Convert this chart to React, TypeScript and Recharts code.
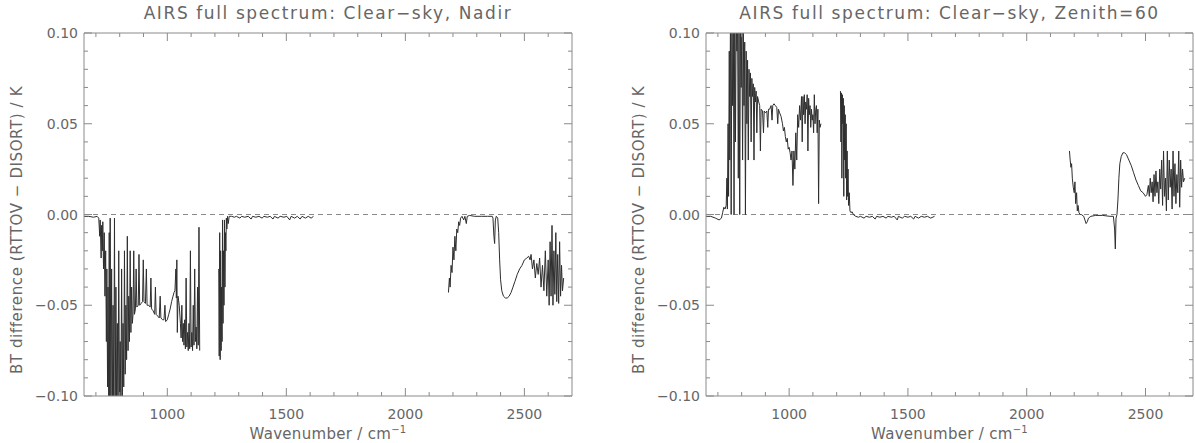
import React from "react";
import { LineChart, Line, XAxis, YAxis, ReferenceLine } from "recharts";

// wavenumber ticks (cm-1) and BT-difference ticks (K)
const xMinorTicks = [700, 800, 900, 1000, 1100, 1200, 1300, 1400, 1500, 1600, 1700, 1800, 1900, 2000, 2100, 2200, 2300, 2400, 2500, 2600];
const xMajorTicks = [1000, 1500, 2000, 2500];
const yTicks = [-0.1, -0.09, -0.08, -0.07, -0.06, -0.05, -0.04, -0.03, -0.02, -0.01, 0, 0.01, 0.02, 0.03, 0.04, 0.05, 0.06, 0.07, 0.08, 0.09, 0.1];

// Nadir: [wavenumber, RTTOV - DISORT]
const nadirLong: [number, number][] = [
  [650, -0.001], [670, -0.001], [690, -0.0015], [705, -0.001], [712, -0.002], [716, -0.012], [718, -0.003],
  [722, -0.024], [724, -0.006], [727, -0.02], [729, -0.004], [732, -0.03], [735, -0.01], [738, -0.045],
  [741, -0.02], [744, -0.07], [746, -0.03], [749, -0.095], [751, -0.04], [754, -0.105], [756, -0.01],
  [758, -0.11], [760, -0.002], [763, -0.11], [766, -0.03], [769, -0.11], [772, -0.05], [775, -0.11],
  [778, -0.002], [781, -0.11], [784, -0.04], [787, -0.11], [790, -0.06], [793, -0.11], [796, -0.02],
  [799, -0.11], [802, -0.07], [805, -0.105], [808, -0.03], [811, -0.1], [814, -0.06], [817, -0.095],
  [820, -0.02], [823, -0.088], [826, -0.05], [829, -0.08], [832, -0.012], [835, -0.075], [838, -0.045],
  [841, -0.07], [844, -0.02], [847, -0.065], [850, -0.04], [853, -0.06], [856, -0.055], [859, -0.02],
  [862, -0.055], [866, -0.052], [869, -0.03], [872, -0.051], [878, -0.05], [881, -0.022], [884, -0.05],
  [890, -0.049], [896, -0.048], [899, -0.025], [902, -0.048], [908, -0.049], [912, -0.03], [915, -0.05],
  [922, -0.05], [928, -0.051], [931, -0.035], [934, -0.052], [940, -0.053], [947, -0.055], [950, -0.04],
  [953, -0.055], [960, -0.056], [966, -0.057], [970, -0.045], [973, -0.057], [980, -0.058], [986, -0.058],
  [990, -0.05], [993, -0.059], [1000, -0.058], [1006, -0.055], [1012, -0.052], [1018, -0.048],
  [1024, -0.045], [1028, -0.043], [1032, -0.042], [1036, -0.03], [1038, -0.046], [1040, -0.025],
  [1042, -0.065], [1045, -0.045], [1050, -0.05], [1055, -0.06], [1058, -0.068], [1061, -0.05],
  [1064, -0.07], [1067, -0.06], [1070, -0.072], [1073, -0.058], [1076, -0.074], [1079, -0.035],
  [1082, -0.073], [1085, -0.065], [1088, -0.075], [1091, -0.06], [1094, -0.074], [1097, -0.02],
  [1100, -0.073], [1103, -0.065], [1106, -0.075], [1109, -0.05], [1112, -0.072], [1115, -0.03],
  [1118, -0.07], [1121, -0.062], [1124, -0.074], [1127, -0.04], [1130, -0.072], [1133, -0.007], [1136, -0.075],
];
const nadirMid: [number, number][] = [
  [1216, -0.03], [1218, -0.078], [1220, -0.01], [1222, -0.08], [1224, -0.02], [1226, -0.075], [1228, -0.04],
  [1230, -0.07], [1232, -0.003], [1234, -0.06], [1236, -0.02], [1238, -0.05], [1240, -0.003], [1242, -0.04],
  [1244, -0.01], [1246, -0.02], [1248, -0.002], [1250, -0.008], [1253, -0.001], [1256, -0.005], [1260, -0.001],
  [1270, -0.001], [1282, -0.0015], [1290, -0.001], [1305, -0.002], [1312, -0.001], [1325, -0.0015], [1340, -0.001],
  [1352, -0.0025], [1358, -0.001], [1372, -0.0015], [1385, -0.001], [1398, -0.002], [1406, -0.001], [1420, -0.0015],
  [1432, -0.001], [1444, -0.0025], [1450, -0.001], [1465, -0.002], [1474, -0.001], [1490, -0.0015], [1502, -0.001],
  [1514, -0.003], [1520, -0.001], [1535, -0.002], [1546, -0.001], [1558, -0.0025], [1566, -0.001], [1580, -0.002],
  [1592, -0.001], [1604, -0.002], [1614, -0.001],
];
const nadirShort: [number, number][] = [
  [2181, -0.043], [2185, -0.035], [2188, -0.04], [2192, -0.028], [2196, -0.032], [2200, -0.018], [2204, -0.025],
  [2208, -0.012], [2212, -0.02], [2216, -0.008], [2220, -0.01], [2224, -0.004], [2228, -0.006], [2232, -0.002],
  [2238, -0.001], [2245, -0.003], [2250, -0.001], [2256, -0.005], [2260, -0.001], [2270, -0.0005], [2290, -0.001],
  [2320, -0.001], [2345, -0.001], [2365, -0.001], [2368, -0.002], [2372, -0.012], [2375, -0.016], [2378, -0.003],
  [2382, -0.001], [2388, -0.002], [2392, -0.01], [2396, -0.025], [2400, -0.036], [2405, -0.042], [2412, -0.045],
  [2420, -0.046], [2428, -0.046], [2436, -0.045], [2444, -0.043], [2452, -0.04], [2460, -0.037], [2470, -0.033],
  [2480, -0.03], [2490, -0.028], [2500, -0.025], [2510, -0.024], [2518, -0.023], [2524, -0.025], [2528, -0.022],
  [2534, -0.03], [2540, -0.025], [2546, -0.035], [2552, -0.027], [2558, -0.033], [2564, -0.024], [2570, -0.04],
  [2576, -0.028], [2582, -0.042], [2588, -0.02], [2594, -0.045], [2600, -0.025], [2604, -0.05], [2608, -0.015],
  [2612, -0.045], [2616, -0.006], [2620, -0.05], [2624, -0.02], [2628, -0.044], [2632, -0.01], [2636, -0.048],
  [2640, -0.022], [2644, -0.049], [2648, -0.015], [2652, -0.045], [2656, -0.028], [2660, -0.042], [2665, -0.035],
];

// Zenith = 60
const zenithLong: [number, number][] = [
  [650, -0.001], [670, -0.001], [690, -0.002], [705, -0.003], [715, -0.002], [720, 0.001], [725, 0.004],
  [730, 0.003], [735, 0.005], [738, 0.02], [740, 0.003], [743, 0.05], [745, 0.01], [748, 0.09], [750, 0.03],
  [753, 0.11], [756, 0.0], [759, 0.11], [762, 0.06], [765, 0.11], [768, 0.0], [771, 0.11], [774, 0.04],
  [777, 0.11], [780, 0.09], [783, 0.11], [786, 0.02], [789, 0.11], [792, 0.0], [795, 0.11], [798, 0.07],
  [801, 0.105], [804, 0.03], [807, 0.1], [810, 0.06], [813, 0.095], [816, 0.0], [819, 0.09], [822, 0.05],
  [825, 0.085], [828, 0.03], [831, 0.08], [834, 0.065], [837, 0.078], [840, 0.04], [843, 0.075], [846, 0.065],
  [849, 0.072], [852, 0.03], [855, 0.07], [858, 0.062], [861, 0.068], [864, 0.045], [867, 0.065], [872, 0.062],
  [876, 0.06], [879, 0.035], [882, 0.058], [888, 0.057], [892, 0.045], [895, 0.057], [900, 0.056], [906, 0.057],
  [910, 0.048], [913, 0.058], [918, 0.058], [924, 0.06], [928, 0.052], [931, 0.06], [936, 0.061], [942, 0.06],
  [948, 0.059], [952, 0.05], [955, 0.058], [960, 0.056], [966, 0.054], [972, 0.05], [976, 0.046], [980, 0.048],
  [984, 0.043], [988, 0.04], [992, 0.042], [996, 0.036], [1000, 0.037], [1004, 0.034], [1008, 0.03],
  [1012, 0.035], [1016, 0.016], [1020, 0.035], [1024, 0.025], [1028, 0.045], [1032, 0.03], [1036, 0.055],
  [1040, 0.048], [1044, 0.06], [1048, 0.052], [1052, 0.065], [1055, 0.04], [1058, 0.065], [1061, 0.055],
  [1064, 0.066], [1067, 0.05], [1070, 0.062], [1073, 0.058], [1076, 0.066], [1079, 0.035], [1082, 0.064],
  [1085, 0.055], [1088, 0.06], [1091, 0.048], [1094, 0.058], [1097, 0.052], [1100, 0.055], [1103, 0.045],
  [1106, 0.066], [1109, 0.05], [1112, 0.058], [1115, 0.06], [1118, 0.045], [1121, 0.058], [1124, 0.006],
  [1127, 0.052], [1130, 0.048], [1134, 0.05],
];
const zenithMid: [number, number][] = [
  [1216, 0.068], [1218, 0.04], [1220, 0.067], [1222, 0.02], [1224, 0.066], [1226, 0.05], [1228, 0.064],
  [1230, 0.01], [1232, 0.06], [1234, 0.03], [1236, 0.055], [1238, 0.02], [1240, 0.05], [1242, 0.008],
  [1244, 0.035], [1246, 0.01], [1248, 0.025], [1250, 0.005], [1253, 0.012], [1256, 0.002], [1260, 0.001],
  [1265, 0.0015], [1270, 0.0], [1280, -0.001], [1292, -0.0015], [1300, -0.001], [1315, -0.002], [1324, -0.001],
  [1338, -0.0015], [1350, -0.001], [1362, -0.0025], [1368, -0.001], [1382, -0.0015], [1395, -0.001], [1408, -0.002],
  [1416, -0.001], [1430, -0.0015], [1442, -0.001], [1455, -0.003], [1460, -0.001], [1476, -0.002], [1486, -0.001],
  [1500, -0.0015], [1512, -0.001], [1524, -0.0025], [1530, -0.001], [1545, -0.002], [1556, -0.001], [1570, -0.0015],
  [1582, -0.001], [1596, -0.002], [1612, -0.001],
];
const zenithShort: [number, number][] = [
  [2180, 0.035], [2183, 0.03], [2186, 0.026], [2189, 0.028], [2192, 0.02], [2196, 0.015], [2200, 0.012],
  [2203, 0.018], [2206, 0.006], [2210, 0.012], [2213, 0.002], [2216, 0.005], [2220, 0.001], [2225, 0.0],
  [2230, 0.0], [2240, -0.001], [2245, -0.003], [2250, -0.005], [2255, -0.004], [2260, -0.002], [2270, -0.001],
  [2290, -0.0005], [2320, -0.0005], [2350, -0.001], [2365, -0.001], [2370, -0.008], [2373, -0.019],
  [2376, -0.002], [2380, 0.0], [2384, 0.008], [2388, 0.02], [2392, 0.028], [2398, 0.032], [2405, 0.034],
  [2412, 0.034], [2420, 0.033], [2430, 0.03], [2440, 0.027], [2450, 0.023], [2460, 0.019], [2470, 0.016],
  [2480, 0.013], [2490, 0.012], [2500, 0.01], [2506, 0.011], [2512, 0.016], [2516, 0.01], [2520, 0.02],
  [2524, 0.012], [2528, 0.018], [2532, 0.007], [2536, 0.022], [2540, 0.01], [2544, 0.024], [2548, 0.012],
  [2552, 0.018], [2556, 0.006], [2560, 0.025], [2564, 0.014], [2568, 0.03], [2572, 0.005], [2576, 0.035],
  [2580, 0.01], [2584, 0.02], [2588, 0.002], [2592, 0.035], [2596, 0.008], [2600, 0.03], [2604, 0.015],
  [2608, 0.025], [2612, 0.003], [2616, 0.035], [2620, 0.01], [2624, 0.028], [2628, 0.006], [2632, 0.022],
  [2636, 0.012], [2640, 0.035], [2644, 0.004], [2648, 0.03], [2652, 0.015], [2656, 0.025], [2660, 0.018],
  [2665, 0.02],
];

const AXIS = "#8a8a8a";
const INK = "#666";
const TRACE = "#2e2e2e";
const FONT = "'DejaVu Sans', sans-serif";

// join the three bands with null points so the line breaks over the gaps
function toRows(long: [number, number][], mid: [number, number][], short: [number, number][]) {
  const rows: { wn: number; bt: number | null }[] = [];
  long.forEach(([wn, bt]) => rows.push({ wn, bt }));
  rows.push({ wn: 1176, bt: null });
  mid.forEach(([wn, bt]) => rows.push({ wn, bt }));
  rows.push({ wn: 1900, bt: null });
  short.forEach(([wn, bt]) => rows.push({ wn, bt }));
  return rows;
}

function XTick(props: any) {
  const { x, y, payload, side } = props;
  const major = xMajorTicks.includes(payload.value);
  const len = major ? 8 : 4;
  const dir = side === "bottom" ? -1 : 1;
  return (
    <g>
      <line x1={x} x2={x} y1={y} y2={y + dir * len} stroke={AXIS} />
      {major && side === "bottom" && (
        <text x={x} y={y + 23} textAnchor="middle" fill={INK} fontSize={14} fontFamily={FONT}>
          {payload.value}
        </text>
      )}
    </g>
  );
}

function YTick(props: any) {
  const { x, y, payload, side } = props;
  const major = Math.round(payload.value * 100) % 5 === 0;
  const len = major ? 8 : 4;
  const dir = side === "left" ? 1 : -1;
  const label = payload.value.toFixed(2).replace("-", "\u2212");
  return (
    <g>
      <line x1={x} x2={x + dir * len} y1={y} y2={y} stroke={AXIS} />
      {major && side === "left" && (
        <text x={x - 6} y={y + 5} textAnchor="end" fill={INK} fontSize={14} fontFamily={FONT}>
          {label}
        </text>
      )}
    </g>
  );
}

interface PanelProps {
  title: string;
  rows: { wn: number; bt: number | null }[];
  left: number;
  width: number;
  plotLeft: number;
  plotRight: number;
}

const PLOT_TOP = 33;
const PLOT_BOTTOM = 396;

function Panel({ title, rows, left, width, plotLeft, plotRight }: PanelProps) {
  const cx = (plotLeft + plotRight) / 2 - left;
  const textStyle: React.CSSProperties = {
    position: "absolute",
    fontFamily: FONT,
    color: INK,
    whiteSpace: "nowrap",
    transform: "translate(-50%, -50%)",
  };
  const axisCommon = {
    allowDataOverflow: true,
    interval: 0 as const,
    tickSize: 0,
    tickMargin: 0,
    tickLine: false,
    axisLine: { stroke: AXIS },
  };
  return (
    <div style={{ position: "absolute", left, top: 0, width, height: 443 }}>
      <LineChart
        width={width}
        height={443}
        data={rows}
        margin={{
          top: PLOT_TOP - 1,
          right: width - (plotRight - left) - 1,
          bottom: 443 - PLOT_BOTTOM - 1,
          left: plotLeft - left - 1,
        }}
      >
        <XAxis
          {...axisCommon}
          xAxisId="b"
          type="number"
          dataKey="wn"
          domain={[650, 2700]}
          ticks={xMinorTicks}
          height={1}
          tick={(p: any) => <XTick {...p} side="bottom" />}
        />
        <XAxis
          {...axisCommon}
          xAxisId="t"
          orientation="top"
          type="number"
          dataKey="wn"
          domain={[650, 2700]}
          ticks={xMinorTicks}
          height={1}
          tick={(p: any) => <XTick {...p} side="top" />}
        />
        <YAxis
          {...axisCommon}
          yAxisId="l"
          type="number"
          domain={[-0.1, 0.1]}
          ticks={yTicks}
          width={1}
          tick={(p: any) => <YTick {...p} side="left" />}
        />
        <YAxis
          {...axisCommon}
          yAxisId="r"
          orientation="right"
          type="number"
          domain={[-0.1, 0.1]}
          ticks={yTicks}
          width={1}
          tick={(p: any) => <YTick {...p} side="right" />}
        />
        <ReferenceLine xAxisId="b" yAxisId="l" y={0} stroke={AXIS} strokeDasharray="5 4" />
        <Line
          xAxisId="b"
          yAxisId="l"
          type="linear"
          dataKey="bt"
          stroke={TRACE}
          strokeWidth={1}
          dot={false}
          activeDot={false}
          isAnimationActive={false}
        />
        <Line
          xAxisId="t"
          yAxisId="r"
          dataKey="none"
          stroke="none"
          dot={false}
          activeDot={false}
          legendType="none"
          isAnimationActive={false}
        />
      </LineChart>
      <div style={{ ...textStyle, left: cx, top: 13, fontSize: 17, letterSpacing: 1.6 }}>{title}</div>
      <div style={{ ...textStyle, left: cx, top: 433, fontSize: 15, letterSpacing: 0.3 }}>
        Wavenumber / cm<sup style={{ fontSize: 10 }}>&minus;1</sup>
      </div>
      <div
        style={{
          ...textStyle,
          left: plotLeft - left - 67,
          top: 230,
          fontSize: 15,
          letterSpacing: 0.6,
          transform: "translate(-50%, -50%) rotate(-90deg)",
        }}
      >
        BT difference (RTTOV &minus; DISORT) / K
      </div>
    </div>
  );
}

export default function App() {
  return (
    <div style={{ position: "fixed", left: 0, top: 0, width: 1195, height: 443, background: "#fff", overflow: "hidden" }}>
      <Panel
        title={"AIRS full spectrum: Clear\u2212sky, Nadir"}
        rows={toRows(nadirLong, nadirMid, nadirShort)}
        left={0}
        width={598}
        plotLeft={84}
        plotRight={572}
      />
      <Panel
        title={"AIRS full spectrum: Clear\u2212sky, Zenith=60"}
        rows={toRows(zenithLong, zenithMid, zenithShort)}
        left={598}
        width={597}
        plotLeft={706}
        plotRight={1193}
      />
    </div>
  );
}
